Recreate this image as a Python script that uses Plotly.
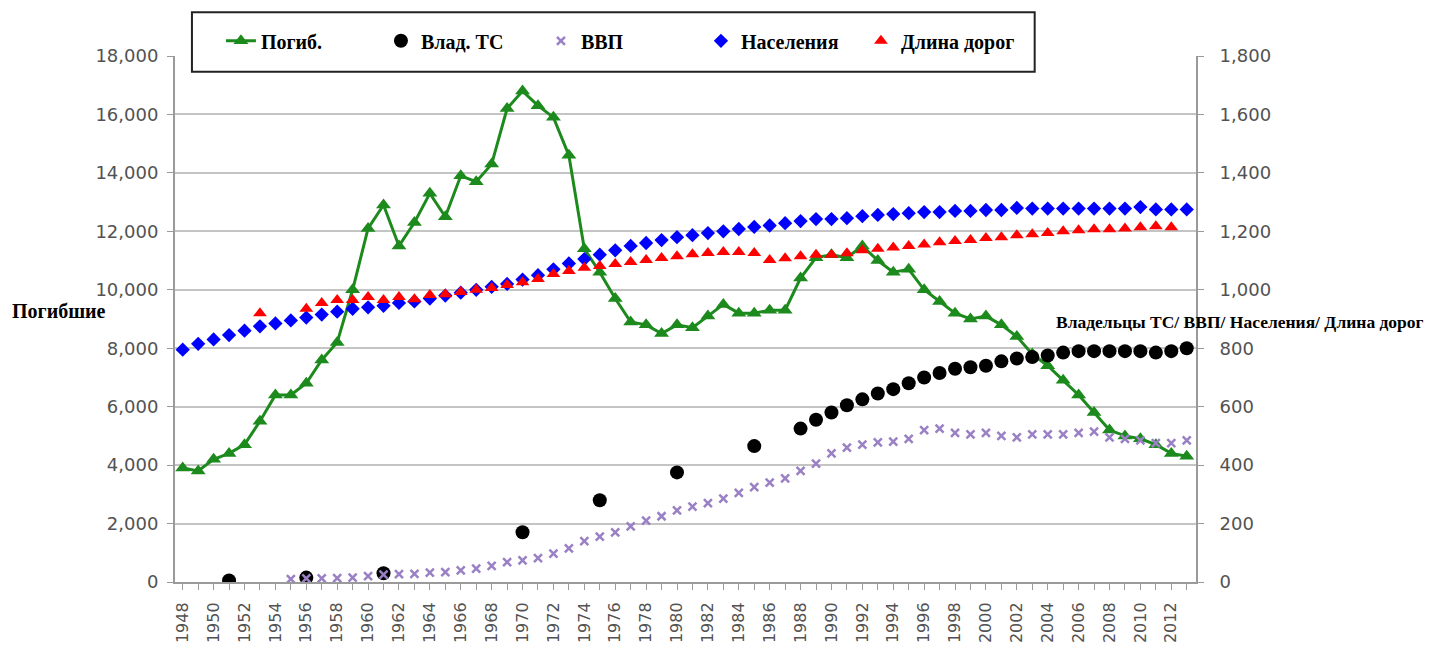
import plotly.graph_objects as go

years = list(range(1948, 2014))
deaths = [3900, 3800, 4200, 4400, 4700, 5500, 6400, 6400, 6800, 7600,
          8200, 10000, 12100, 12900, 11500, 12300, 13300, 12500, 13900, 13700,
          14300, 16200, 16800, 16300, 15900, 14600, 11400, 10600, 9700, 8900,
          8800, 8500, 8800, 8700, 9100, 9500, 9200, 9200, 9300, 9300,
          10400, 11100, 11200, 11100, 11500, 11000, 10600, 10700, 10000, 9600,
          9200, 9000, 9100, 8800, 8400, 7800, 7400, 6900, 6400, 5800,
          5200, 5000, 4900, 4700, 4400, 4300]

owners_years = [1951, 1956, 1961, 1970, 1975, 1980, 1985] + list(range(1988, 2014))
owners = [5, 15, 30, 170, 280, 375, 465,
          525, 555, 580, 605, 625, 645, 660, 680, 700, 715, 730, 735, 740,
          755, 765, 770, 775, 785, 790, 790, 790, 790, 790, 785, 790, 800]

gdp_years = list(range(1955, 2014))
gdp = [10, 12, 12, 13, 15, 20, 25, 27, 28, 32,
       34, 40, 46, 55, 68, 74, 82, 97, 115, 140,
       155, 170, 190, 210, 225, 245, 258, 270, 285, 305,
       325, 340, 355, 380, 405, 440, 460, 470, 478, 480,
       490, 520, 525, 510, 505, 510, 500, 495, 505, 505,
       505, 510, 515, 495, 490, 485, 475, 475, 485]

population = [795, 815, 830, 845, 860, 875, 885, 895, 905, 915,
              925, 935, 940, 945, 955, 960, 970, 980, 990, 1000,
              1010, 1020, 1035, 1050, 1070, 1090, 1105, 1120, 1135, 1150,
              1160, 1170, 1180, 1187, 1194, 1200, 1208, 1215, 1220, 1228,
              1235, 1242, 1242, 1245, 1252, 1256, 1259, 1262, 1266, 1266,
              1270, 1270, 1273, 1273, 1280, 1278, 1278, 1278, 1278, 1278,
              1278, 1278, 1283, 1275, 1275, 1275]

roads_years = [1953] + list(range(1956, 2013))
roads = [920,
         935, 955, 965, 965, 975, 965, 975, 968, 982, 985,
         992, 1000, 1006, 1016, 1026, 1037, 1054, 1064, 1075, 1081,
         1088, 1095, 1102, 1109, 1115, 1122, 1126, 1129, 1129, 1126,
         1102, 1108, 1115, 1120, 1120, 1125, 1135, 1140, 1145, 1150,
         1155, 1163, 1167, 1170, 1177, 1180, 1187, 1190, 1194, 1200,
         1204, 1207, 1207, 1210, 1214, 1217, 1214]

serif = "Liberation Serif"
sans = "DejaVu Sans"
tick_color = "#525252"
grid_color = "#c4c4c4"
axis_color = "#9a9a9a"

fig = go.Figure()

fig.add_trace(go.Scatter(
    x=years, y=deaths, name="Погиб.", mode="lines+markers",
    line=dict(color="#1c8a1c", width=3),
    marker=dict(symbol="triangle-up", size=13, color="#1c8a1c"),
))
fig.add_trace(go.Scatter(
    x=owners_years, y=owners, name="Влад. ТС", mode="markers", yaxis="y2",
    marker=dict(symbol="circle", size=14, color="black"),
))
fig.add_trace(go.Scatter(
    x=gdp_years, y=gdp, name="ВВП", mode="markers", yaxis="y2",
    marker=dict(symbol="x-thin", size=8, color="#9a80c4", line=dict(width=2.5, color="#9a80c4")),
))
fig.add_trace(go.Scatter(
    x=years, y=population, name="Населения", mode="markers", yaxis="y2",
    marker=dict(symbol="diamond", size=11, color="#0000ff"),
))
fig.add_trace(go.Scatter(
    x=roads_years, y=roads, name="Длина дорог", mode="markers", yaxis="y2",
    marker=dict(symbol="triangle-up", size=12, color="#ff0000"),
))

fig.update_layout(
    width=1454,
    height=648,
    # page body has an 8px offset, so margins are shifted to compensate
    margin=dict(l=167, r=266, t=48, b=74),
    paper_bgcolor="white",
    plot_bgcolor="white",
    font=dict(family=sans, size=18, color=tick_color),
    xaxis=dict(
        range=[1947.5, 2013.6],
        tickmode="linear", tick0=1948, dtick=2,
        tickangle=-90,
        tickfont=dict(size=16, color=tick_color),
        ticks="outside", ticklen=6, tickcolor=axis_color,
        ticklabelstandoff=6,
        minor=dict(dtick=1, ticks="outside", ticklen=6, tickcolor=axis_color),
        showgrid=False,
        showline=True, linecolor=axis_color, linewidth=2,
        zeroline=False,
    ),
    yaxis=dict(
        range=[0, 18000], dtick=2000, tickformat=",",
        tickfont=dict(size=18, color=tick_color),
        ticks="outside", ticklen=6, tickcolor=axis_color,
        ticklabelstandoff=5,
        showgrid=True, gridcolor=grid_color, gridwidth=2,
        showline=True, linecolor=axis_color, linewidth=2,
        zeroline=False,
    ),
    yaxis2=dict(
        range=[0, 1800], dtick=200, tickformat=",",
        tickfont=dict(size=18, color=tick_color),
        overlaying="y", side="right",
        ticks="outside", ticklen=6, tickcolor=axis_color,
        ticklabelstandoff=12,
        showgrid=False,
        showline=True, linecolor=axis_color, linewidth=2,
        zeroline=False,
    ),
    legend=dict(
        orientation="h",
        x=0.045, y=1.066, xanchor="left", yanchor="top",
        bgcolor="rgba(0,0,0,0)",
        font=dict(family=serif, size=20, color="black", weight="bold"),
        entrywidthmode="pixels", entrywidth=115,
    ),
    showlegend=True,
)

# legend frame
fig.add_shape(
    type="rect", xref="paper", yref="paper",
    x0=0.0166, x1=0.842, y0=0.97, y1=1.083,
    line=dict(color="#222222", width=2), fillcolor="white", layer="above",
)

fig.add_annotation(
    text="<b>Погибшие</b>", xref="paper", yref="paper",
    x=-0.162, y=0.516, xanchor="left", yanchor="middle", showarrow=False,
    font=dict(family=serif, size=20, color="black"),
)
fig.add_annotation(
    text="<b>Владельцы ТС/ ВВП/ Населения/ Длина дорог</b>", xref="paper", yref="paper",
    x=0.861, y=0.494, xanchor="left", yanchor="middle", showarrow=False,
    font=dict(family=serif, size=17.5, color="black"),
)

fig.write_html("out.html")
